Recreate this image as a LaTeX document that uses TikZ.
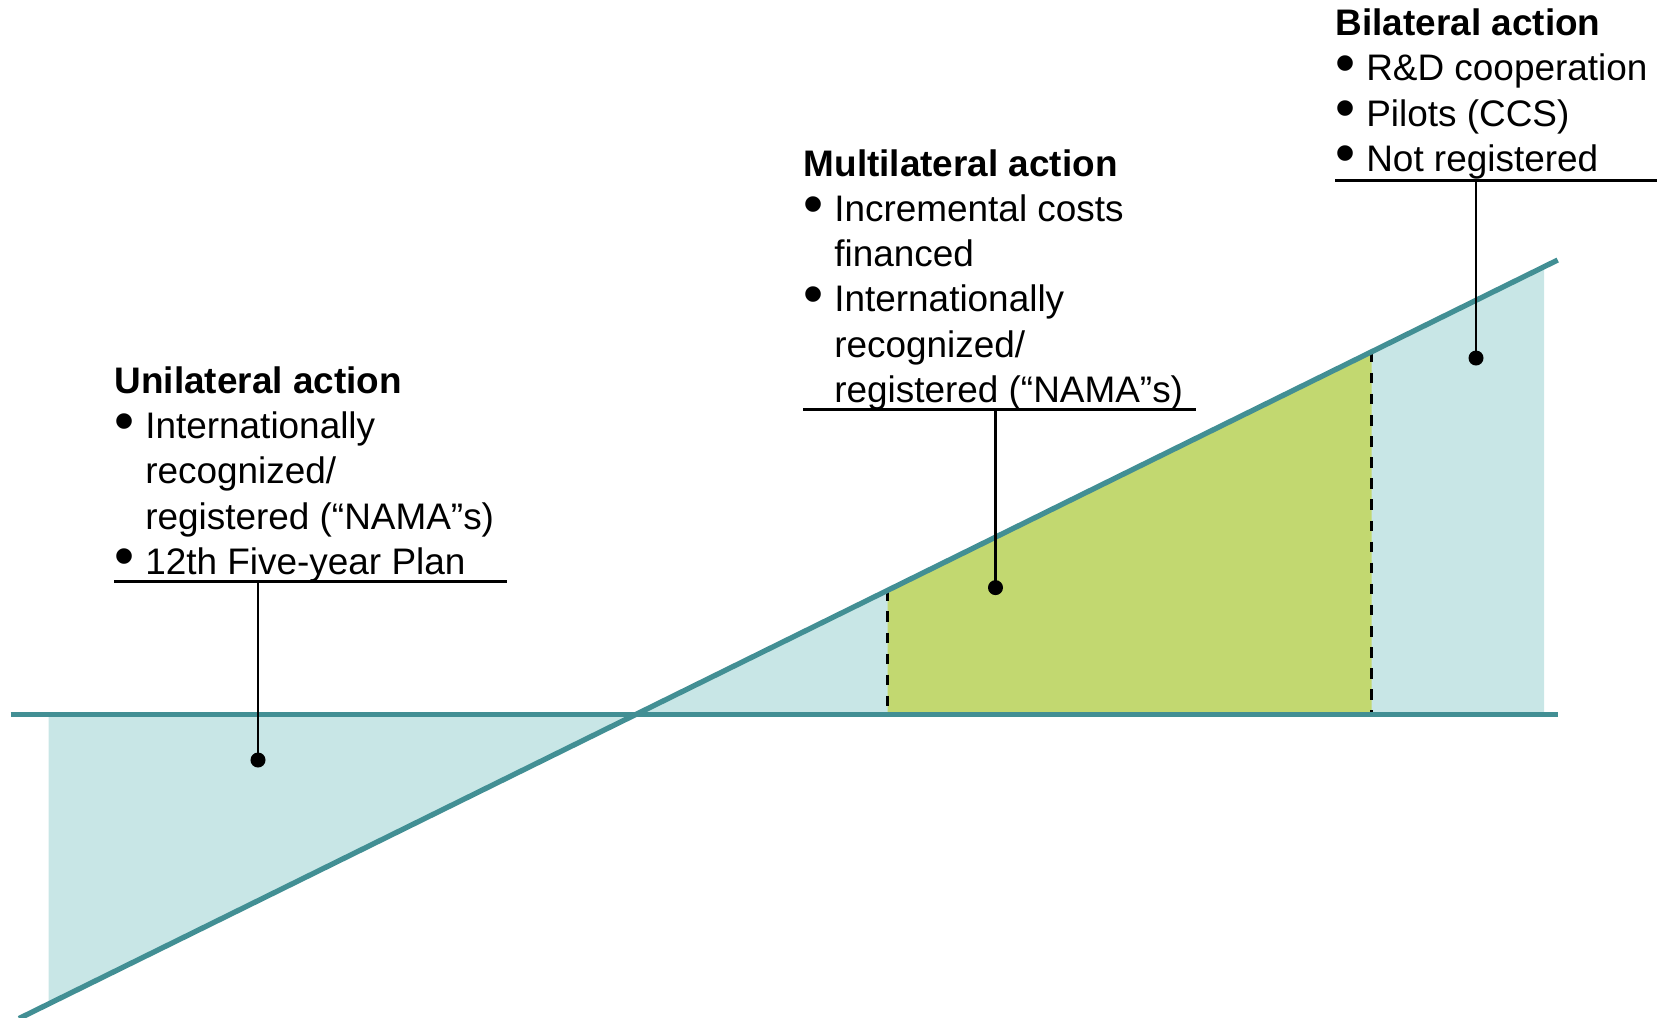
\documentclass[tikz,border=0pt]{standalone}
\usepackage{fontspec}
\usepackage{graphicx}
\setmainfont{Liberation Sans}
\definecolor{tealline}{RGB}{66,143,148}
\definecolor{lightfill}{RGB}{200,230,230}
\definecolor{greenfill}{RGB}{194,216,112}
\newcommand{\itembul}{\makebox[8.7pt][l]{\smash{\raisebox{-0.35pt}{\scalebox{1.55}{\textbullet}}}}}

\begin{document}
\begin{tikzpicture}
    [x=0.01cm, y=-0.01cm,
     callout/.style={anchor=base west, inner sep=0pt, font=\fontsize{10.5pt}{12.8pt}\selectfont},
     dot/.style={circle, fill=black, inner sep=0pt, minimum size=0.15cm},
     axis/.style={tealline, line width=1.5pt},
     uline/.style={black, line width=0.85pt},
     stem/.style={black, line width=0.7pt}]
    \useasboundingbox (0,0) rectangle (1657,1017);

    % shaded areas
    \fill[lightfill] (48.6,714.4) -- (636.1,714.4) -- (48.6,1004.1) -- cycle;
    \fill[lightfill] (636.1,714.4) -- (1544,266.8) -- (1544,714.4) -- cycle;
    \fill[greenfill] (887.7,714.4) -- (887.7,590.3) -- (1371.7,351.7) -- (1371.7,714.4) -- cycle;
    \draw[dashed, line width=0.8pt] (887.7,590.3) -- (887.7,714.4);
    \draw[dashed, line width=0.8pt] (1371.7,351.7) -- (1371.7,714.4);

    % axes
    \draw[axis] (10.6,714.4) -- (1557.7,714.4);
    \draw[axis] (19,1018.5) -- (1557.7,260);

    % callouts
    \node[callout] (unitext) at (114,574) {\begin{tabular}[b]{@{}l@{}l@{}}
        \multicolumn{2}{@{}l@{}}{\textbf{Unilateral action}}\\
        \itembul & Internationally\\
                 & recognized/\\
                 & registered (“NAMA”s)\\
        \itembul & 12th Five-year Plan
    \end{tabular}};
    \node[callout] (multitext) at (803,402) {\begin{tabular}[b]{@{}l@{}l@{}}
        \multicolumn{2}{@{}l@{}}{\textbf{Multilateral action}}\\
        \itembul & Incremental costs\\
                 & financed\\
        \itembul & Internationally\\
                 & recognized/\\
                 & registered (“NAMA”s)
    \end{tabular}};
    \node[callout] (bitext) at (1335,171) {\begin{tabular}[b]{@{}l@{}l@{}}
        \multicolumn{2}{@{}l@{}}{\textbf{Bilateral action}}\\
        \itembul & R\&D cooperation\\
        \itembul & Pilots (CCS)\\
        \itembul & Not registered
    \end{tabular}};

    \coordinate (uniL) at (114,581);
    \coordinate (uniR) at (507,581);
    \coordinate (multiL) at (803,409);
    \coordinate (multiR) at (1196,409);
    \coordinate (biL) at (1335,180);
    \coordinate (biR) at (1657,180);
    \draw[uline] (uniL) -- (uniR);
    \draw[uline] (multiL) -- (multiR);
    \draw[uline] (biL) -- (biR);

    \node[dot] (unidot) at (258,760) {};
    \node[dot] (multidot) at (995.5,587.6) {};
    \node[dot] (bidot) at (1476,358) {};
    \draw[stem] (unidot.center) -- (unidot |- uniL);
    \draw[stem] (multidot.center) -- (multidot |- multiL);
    \draw[stem] (bidot.center) -- (bidot |- biL);
\end{tikzpicture}
\end{document}
